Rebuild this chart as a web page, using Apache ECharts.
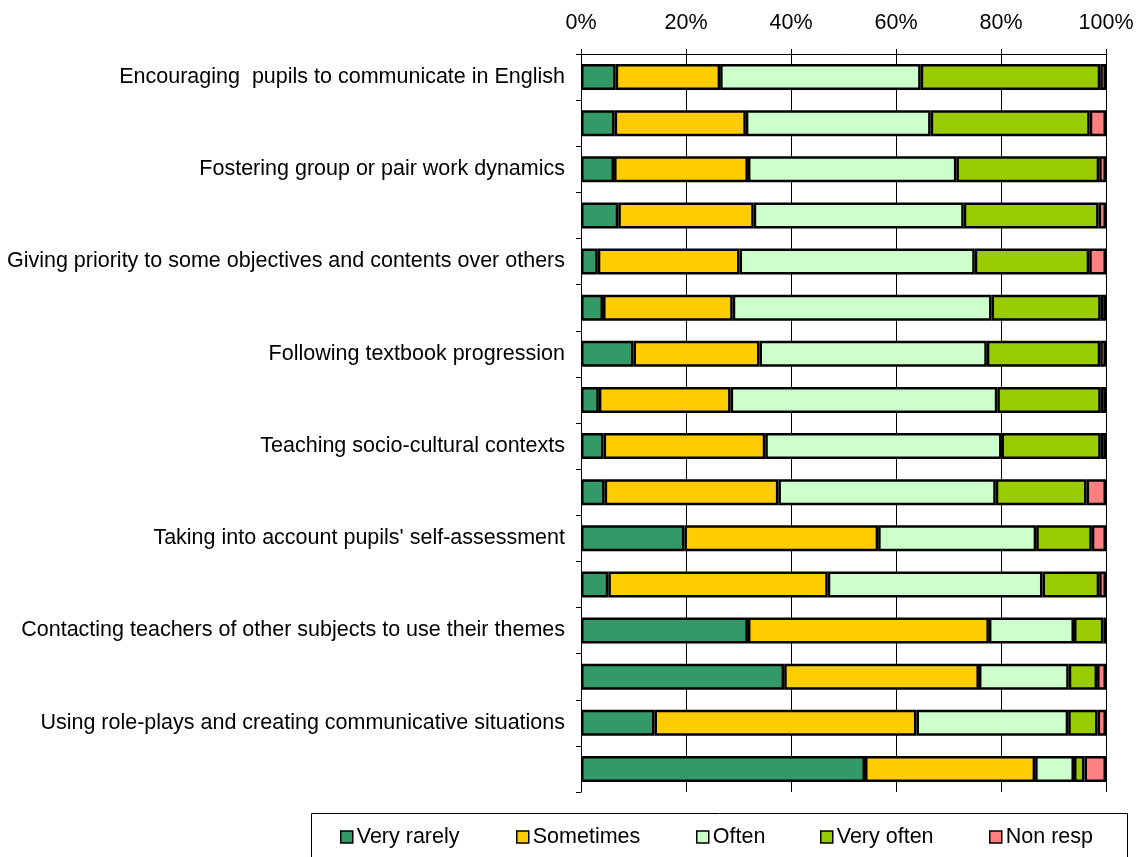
<!DOCTYPE html>
<html>
<head>
<meta charset="utf-8">
<script src="https://cdn.jsdelivr.net/npm/echarts@6/dist/echarts.min.js"></script>
<style>
html,body{margin:0;padding:0;background:#fff;}
#chart{width:1138px;height:857px;}
</style>
</head>
<body>
<div id="chart"></div>
<script>
const categories = [
  "Encouraging  pupils to communicate in English", "",
  "Fostering group or pair work dynamics", "",
  "Giving priority to some objectives and contents over others", "",
  "Following textbook progression", "",
  "Teaching socio-cultural contexts", "",
  "Taking into account pupils' self-assessment", "",
  "Contacting teachers of other subjects to use their themes", "",
  "Using role-plays and creating communicative situations", ""
];
const seriesNames = ["Very rarely", "Sometimes", "Often", "Very often", "Non resp"];
const veryRarely = [6.6, 6.4, 6.3, 7.1, 3.2, 4.2, 10.0, 3.4, 4.3, 4.5, 19.7, 5.2, 31.8, 38.7, 14.0, 54.1];
const sometimes  = [19.9, 25.0, 25.5, 25.8, 27.0, 24.7, 24.0, 25.1, 30.8, 33.1, 36.9, 41.8, 45.9, 37.1, 49.9, 32.4];
const often      = [38.2, 35.2, 39.7, 40.0, 44.8, 49.3, 43.3, 50.8, 45.0, 41.4, 30.1, 40.9, 16.2, 17.1, 28.9, 7.4];
const veryOften  = [34.2, 30.3, 27.2, 25.7, 21.8, 20.8, 21.6, 19.7, 18.9, 17.3, 10.6, 10.8, 5.6, 5.4, 5.6, 2.0];
const nonResp    = [1.1, 3.1, 1.3, 1.4, 3.2, 1.0, 1.1, 1.0, 1.0, 3.7, 2.7, 1.3, 0.5, 1.7, 1.6, 4.1];
const xTicks = [0, 20, 40, 60, 80, 100];

const colors = ["#339966", "#FFCC00", "#CCFFCC", "#99CC00", "#FF8080"];
const values = [veryRarely, sometimes, often, veryOften, nonResp];
const FONT = "Liberation Sans, Arial, sans-serif";

const chart = echarts.init(document.getElementById('chart'), null, {renderer: 'canvas'});

const legendLefts = [340, 516, 696, 820, 989];

const option = {
  animation: false,
  backgroundColor: '#fff',
  textStyle: {fontFamily: FONT},
  grid: {left: 581, right: 32, top: 54, bottom: 65, containLabel: false},
  xAxis: {
    type: 'value',
    position: 'top',
    min: xTicks[0],
    max: xTicks[xTicks.length - 1],
    interval: xTicks[1] - xTicks[0],
    axisLine: {show: true, lineStyle: {color: '#000', width: 1}},
    axisTick: {show: true, length: 5, lineStyle: {color: '#000'}},
    axisLabel: {formatter: '{value}%', color: '#000', fontSize: 21.5, fontFamily: FONT, margin: 20},
    splitLine: {show: true, lineStyle: {color: '#000', width: 1}}
  },
  yAxis: {
    type: 'category',
    inverse: true,
    data: categories.map((c, i) => String(i)),
    axisLine: {show: true, lineStyle: {color: '#000', width: 1}},
    axisTick: {show: true, length: 5, lineStyle: {color: '#000'}},
    axisLabel: {
      color: '#000', fontSize: 21.5, fontFamily: FONT, margin: 16, interval: 0,
      formatter: (v) => categories[Number(v)]
    },
    splitLine: {show: false}
  },
  legend: seriesNames.map((n, i) => ({
    data: [n],
    left: legendLefts[i],
    top: 826,
    itemWidth: 12,
    itemHeight: 12,
    itemGap: 0,
    icon: 'rect',
    padding: 0,
    textStyle: {fontSize: 21.5, color: '#000', fontFamily: FONT, padding: [0, 0, 0, -1]},
    itemStyle: {borderColor: '#000', borderWidth: 1.5}
  })),
  graphic: [{
    type: 'rect',
    shape: {x: 311.5, y: 813.5, width: 816, height: 60},
    style: {fill: 'none', stroke: '#000', lineWidth: 1},
    silent: true,
    z: 0
  }],
  series: seriesNames.map((n, i) => ({
    name: n,
    type: 'bar',
    stack: 'total',
    barWidth: 26,
    data: values[i],
    itemStyle: {color: colors[i], borderColor: '#000', borderWidth: 2.5},
    emphasis: {disabled: true}
  }))
};
chart.setOption(option);
</script>
</body>
</html>
